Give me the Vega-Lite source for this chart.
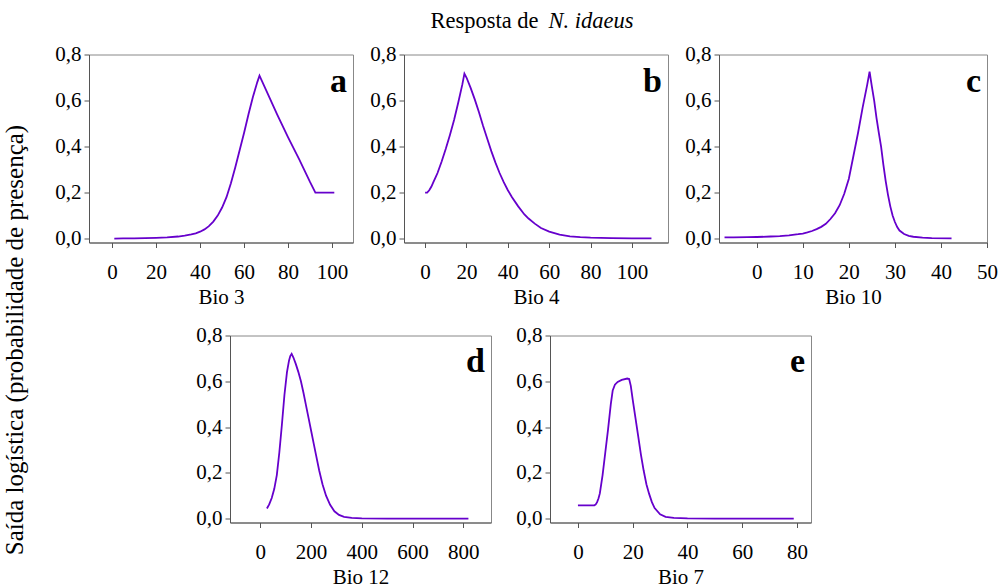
{
  "$schema": "https://vega.github.io/schema/vega-lite/v6.json",
  "padding": {"left": 1, "top": 8.5, "right": 5, "bottom": 5},
  "background": "white",
  "config": {
    "font": "Liberation Serif",
    "view": {"stroke": "#888888", "strokeWidth": 1},
    "axis": {
      "grid": false,
      "labelFont": "Liberation Serif", "labelFontSize": 21, "labelColor": "black",
      "titleFont": "Liberation Serif", "titleFontSize": 21, "titleFontWeight": "normal", "titleColor": "black",
      "domainColor": "#555555", "tickColor": "#555555", "tickSize": 5,
      "labelFlush": false, "labelOverlap": false, "labelBound": false
    },
    "axisX": {"labelPadding": 14, "titlePadding": 4},
    "axisY": {"labelPadding": 3, "values": [0, 0.2, 0.4, 0.6, 0.8], "labelExpr": "replace(format(datum.value, '.1f'), '.', ',')"},
    "line": {"color": "#6600cc", "strokeWidth": 1.8},
    "title": {"font": "Liberation Serif", "fontSize": 34, "fontWeight": "bold", "color": "black", "anchor": "end", "frame": "group", "orient": "bottom", "offset": -243, "baseline": "alphabetic", "dx": -6}
  },
  "datasets": {
    "a": [{"x":1,"y":0},{"x":5,"y":0.0005},{"x":10,"y":0.001},{"x":15,"y":0.002},{"x":20,"y":0.003},{"x":25,"y":0.005},{"x":30,"y":0.009},{"x":33,"y":0.013},{"x":36,"y":0.018},{"x":38,"y":0.023},{"x":40,"y":0.03},{"x":42,"y":0.04},{"x":44,"y":0.054},{"x":46,"y":0.074},{"x":48,"y":0.1},{"x":50,"y":0.135},{"x":52,"y":0.18},{"x":54,"y":0.24},{"x":56,"y":0.31},{"x":58,"y":0.385},{"x":60,"y":0.46},{"x":62,"y":0.54},{"x":64,"y":0.615},{"x":66,"y":0.68},{"x":67,"y":0.708},{"x":70,"y":0.645},{"x":75,"y":0.54},{"x":80,"y":0.44},{"x":85,"y":0.345},{"x":90,"y":0.245},{"x":92.4,"y":0.2},{"x":101,"y":0.2}],
    "b": [{"x":0,"y":0.2},{"x":1,"y":0.2},{"x":2,"y":0.21},{"x":3,"y":0.225},{"x":4,"y":0.245},{"x":5,"y":0.265},{"x":6,"y":0.285},{"x":8,"y":0.335},{"x":10,"y":0.39},{"x":12,"y":0.45},{"x":14,"y":0.515},{"x":16,"y":0.59},{"x":18,"y":0.67},{"x":19,"y":0.717},{"x":20,"y":0.7},{"x":22,"y":0.655},{"x":24,"y":0.605},{"x":26,"y":0.55},{"x":28,"y":0.49},{"x":30,"y":0.435},{"x":32,"y":0.38},{"x":34,"y":0.33},{"x":36,"y":0.285},{"x":38,"y":0.245},{"x":40,"y":0.21},{"x":42,"y":0.18},{"x":45,"y":0.14},{"x":48,"y":0.105},{"x":50,"y":0.087},{"x":53,"y":0.065},{"x":56,"y":0.046},{"x":60,"y":0.03},{"x":65,"y":0.017},{"x":70,"y":0.01},{"x":75,"y":0.006},{"x":80,"y":0.004},{"x":90,"y":0.002},{"x":100,"y":0.001},{"x":109.4,"y":0.001}],
    "c": [{"x":-7,"y":0.005},{"x":-5,"y":0.005},{"x":-2,"y":0.006},{"x":0,"y":0.007},{"x":3,"y":0.009},{"x":5,"y":0.011},{"x":7,"y":0.014},{"x":9,"y":0.019},{"x":10,"y":0.022},{"x":11,"y":0.027},{"x":12,"y":0.033},{"x":13,"y":0.041},{"x":14,"y":0.051},{"x":15,"y":0.064},{"x":16,"y":0.085},{"x":17,"y":0.11},{"x":18,"y":0.145},{"x":19,"y":0.195},{"x":20,"y":0.26},{"x":21,"y":0.36},{"x":22,"y":0.46},{"x":23,"y":0.57},{"x":24,"y":0.67},{"x":24.5,"y":0.725},{"x":25,"y":0.66},{"x":25.5,"y":0.6},{"x":26,"y":0.525},{"x":26.5,"y":0.46},{"x":27,"y":0.4},{"x":27.5,"y":0.32},{"x":28,"y":0.25},{"x":28.5,"y":0.19},{"x":29,"y":0.14},{"x":29.5,"y":0.1},{"x":30,"y":0.072},{"x":30.5,"y":0.05},{"x":31,"y":0.035},{"x":32,"y":0.02},{"x":33,"y":0.012},{"x":34,"y":0.008},{"x":36,"y":0.004},{"x":38,"y":0.002},{"x":42.3,"y":0.001}],
    "d": [{"x":26,"y":0.044},{"x":35,"y":0.062},{"x":45,"y":0.09},{"x":55,"y":0.13},{"x":65,"y":0.19},{"x":75,"y":0.29},{"x":85,"y":0.41},{"x":95,"y":0.54},{"x":105,"y":0.64},{"x":113,"y":0.69},{"x":118,"y":0.71},{"x":123.5,"y":0.72},{"x":130,"y":0.705},{"x":140,"y":0.675},{"x":150,"y":0.64},{"x":160,"y":0.6},{"x":170,"y":0.55},{"x":180,"y":0.495},{"x":190,"y":0.44},{"x":200,"y":0.385},{"x":210,"y":0.33},{"x":220,"y":0.275},{"x":232,"y":0.21},{"x":245,"y":0.15},{"x":259,"y":0.1},{"x":275,"y":0.06},{"x":292,"y":0.032},{"x":310,"y":0.016},{"x":330,"y":0.008},{"x":360,"y":0.003},{"x":400,"y":0.001},{"x":500,"y":0},{"x":820,"y":0}],
    "e": [{"x":0,"y":0.058},{"x":6,"y":0.058},{"x":6.5,"y":0.062},{"x":7,"y":0.072},{"x":7.5,"y":0.088},{"x":8,"y":0.11},{"x":9,"y":0.19},{"x":10,"y":0.29},{"x":11,"y":0.39},{"x":12,"y":0.5},{"x":12.7,"y":0.56},{"x":13.5,"y":0.585},{"x":14.5,"y":0.597},{"x":16,"y":0.606},{"x":18,"y":0.612},{"x":18.7,"y":0.61},{"x":19.3,"y":0.58},{"x":20,"y":0.52},{"x":21,"y":0.44},{"x":22,"y":0.36},{"x":23,"y":0.28},{"x":24,"y":0.21},{"x":25,"y":0.15},{"x":26,"y":0.108},{"x":27,"y":0.072},{"x":28,"y":0.046},{"x":30,"y":0.019},{"x":32,"y":0.008},{"x":35,"y":0.003},{"x":40,"y":0.001},{"x":50,"y":0},{"x":78.8,"y":0}]
  },
  "bounds": "flush",
  "spacing": 281,
  "vconcat": [
    {
      "bounds": "flush",
      "spacing": 51,
      "hconcat": [
        {
          "width": 264, "height": 188,
          "data": {"name": "a"},
          "title": {"text": "a"},
          "mark": "line",
          "encoding": {
            "x": {"field": "x", "type": "quantitative", "scale": {"domain": [-10.5, 109.5], "nice": false, "zero": false}, "axis": {"title": "Bio 3", "values": [0, 20, 40, 60, 80, 100]}},
            "y": {"field": "y", "type": "quantitative", "scale": {"domain": [-0.017, 0.8], "nice": false, "zero": false}, "axis": {"title": null}}
          }
        },
        {
          "width": 264, "height": 188,
          "data": {"name": "b"},
          "title": {"text": "b"},
          "layer": [
            {
              "mark": "line",
              "encoding": {
                "x": {"field": "x", "type": "quantitative", "scale": {"domain": [-10.2, 117.4], "nice": false, "zero": false}, "axis": {"title": "Bio 4", "values": [0, 20, 40, 60, 80, 100]}},
                "y": {"field": "y", "type": "quantitative", "scale": {"domain": [-0.017, 0.8], "nice": false, "zero": false}, "axis": {"title": null}}
              }
            },
            {
              "mark": {"type": "line", "strokeOpacity": 0},
              "encoding": {
                "x": {"field": "x", "type": "quantitative", "scale": {"domain": [-10.2, 117.4], "nice": false, "zero": false}, "axis": {"orient": "top", "title": "Resposta de", "labels": false, "ticks": false, "domain": false, "titleFontSize": 22.5, "titleX": 26, "titleY": -27, "titleAlign": "left", "titleBaseline": "alphabetic"}},
                "y": {"field": "y", "type": "quantitative", "scale": {"domain": [-0.017, 0.8], "nice": false, "zero": false}}
              }
            }
          ],
          "resolve": {"axis": {"x": "independent"}}
        },
        {
          "width": 268, "height": 188,
          "data": {"name": "c"},
          "title": {"text": "c"},
          "layer": [
            {
              "mark": "line",
              "encoding": {
                "x": {"field": "x", "type": "quantitative", "scale": {"domain": [-8.2, 50], "nice": false, "zero": false}, "axis": {"title": "Bio 10", "values": [0, 10, 20, 30, 40, 50]}},
                "y": {"field": "y", "type": "quantitative", "scale": {"domain": [-0.017, 0.8], "nice": false, "zero": false}, "axis": {"title": null}}
              }
            },
            {
              "mark": {"type": "line", "strokeOpacity": 0},
              "encoding": {
                "x": {"field": "x", "type": "quantitative", "scale": {"domain": [-8.2, 50], "nice": false, "zero": false}, "axis": {"orient": "top", "title": "N. idaeus", "titleFontStyle": "italic", "labels": false, "ticks": false, "domain": false, "titleFontSize": 22.5, "titleX": -171, "titleY": -27, "titleAlign": "left", "titleBaseline": "alphabetic"}},
                "y": {"field": "y", "type": "quantitative", "scale": {"domain": [-0.017, 0.8], "nice": false, "zero": false}}
              }
            }
          ],
          "resolve": {"axis": {"x": "independent"}}
        }
      ]
    },
    {
      "bounds": "flush",
      "spacing": 59,
      "hconcat": [
        {
          "width": 82, "height": 187,
          "data": {"values": []},
          "mark": "point",
          "view": {"stroke": null}
        },
        {
          "width": 261, "height": 187,
          "data": {"name": "d"},
          "title": {"text": "d"},
          "mark": "line",
          "encoding": {
            "x": {"field": "x", "type": "quantitative", "scale": {"domain": [-119.5, 909], "nice": false, "zero": false}, "axis": {"title": "Bio 12", "values": [0, 200, 400, 600, 800]}},
            "y": {"field": "y", "type": "quantitative", "scale": {"domain": [-0.017, 0.8], "nice": false, "zero": false}, "axis": {"title": "Saída logística (probabilidade de presença)", "titleFontSize": 25, "titleX": -208, "titleY": 4, "titleAlign": "center", "titleBaseline": "alphabetic"}}
          }
        },
        {
          "width": 261, "height": 187,
          "data": {"name": "e"},
          "title": {"text": "e"},
          "mark": "line",
          "encoding": {
            "x": {"field": "x", "type": "quantitative", "scale": {"domain": [-10.2, 85.1], "nice": false, "zero": false}, "axis": {"title": "Bio 7", "values": [0, 20, 40, 60, 80]}},
            "y": {"field": "y", "type": "quantitative", "scale": {"domain": [-0.017, 0.8], "nice": false, "zero": false}, "axis": {"title": null}}
          }
        }
      ]
    }
  ]
}
